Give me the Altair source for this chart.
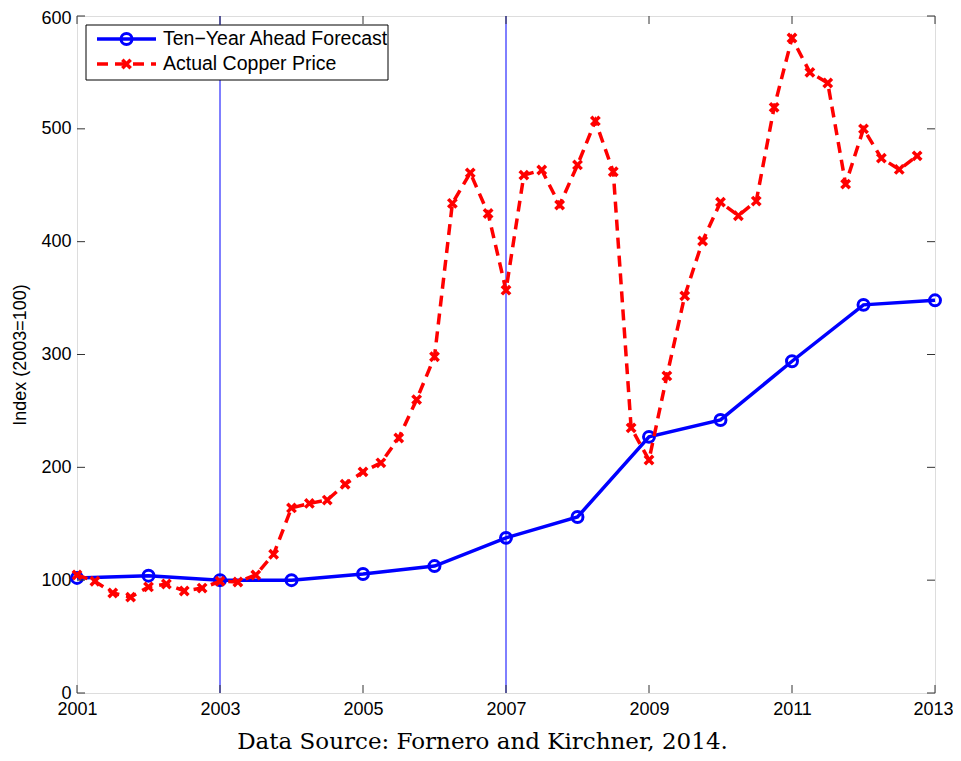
import altair as alt
import pandas as pd

# ---- data ----
forecast_years = list(range(2001, 2014))
forecast_vals = [102, 104, 100, 100, 105.5, 112.5, 137.5, 156, 227, 242, 294, 344, 348]

copper_t = [2001 + 0.25 * k for k in range(48)]
copper_vals = [104.6, 99, 88.6, 85, 94, 96.6, 90.4, 93, 99, 98.4, 104.6, 123,
               164, 168, 171, 185, 196, 204, 226, 260, 298, 434, 461, 425,
               357, 459, 463.5, 432.5, 468, 507, 462, 235, 206.5, 281, 352, 400.6,
               435, 423, 436, 519, 580.5, 550, 540.6, 451, 500, 474, 464, 476]

vline_years = [2003, 2007]
x_ticks = [2001, 2003, 2005, 2007, 2009, 2011, 2013]
y_ticks = [0, 100, 200, 300, 400, 500, 600]
legend_labels = ["Ten\u2212Year Ahead Forecast", "Actual Copper Price"]
caption = "Data Source: Fornero and Kirchner, 2014."
y_title = "Index (2003=100)"

W, H = 858, 677
BLUE = "#0000ff"
RED = "#ff0000"
FONT = "Liberation Sans"

df_f = pd.DataFrame({"year": forecast_years, "val": forecast_vals})
df_c = pd.DataFrame({"year": copper_t, "val": copper_vals})
df_v = pd.DataFrame({"year": vline_years})
df_xt = pd.DataFrame({"year": x_ticks})
df_yt = pd.DataFrame({"val": y_ticks})

xs = alt.Scale(domain=[2001, 2013], nice=False, zero=False)
ys = alt.Scale(domain=[0, 600], nice=False)

X = alt.X("year:Q", scale=xs,
          axis=alt.Axis(values=x_ticks, format="d", title=None, tickSize=0,
                        labelPadding=7, grid=False, domain=False, labelFlush=False,
                        labelOffset={"condition": {"test": "datum.value == 2013",
                                                   "value": -2}, "value": 0},
                        labelFont=FONT, labelFontSize=18, labelColor="black"))
Y = alt.Y("val:Q", scale=ys,
          axis=alt.Axis(values=y_ticks, title=y_title, tickSize=0, labelPadding=6,
                        grid=False, domain=False, labelFlush=False, labelFont=FONT,
                        labelOffset={"condition": {"test": "datum.value == 600",
                                                   "value": 2}, "value": 0},
                        labelFontSize=18, labelColor="black", titleFont=FONT,
                        titleFontSize=18, titleFontWeight="normal", titleColor="black",
                        titlePadding=11))

vlines = alt.Chart(df_v).mark_rule(color=BLUE, strokeWidth=1).encode(
    x=alt.X("year:Q", scale=xs))

f_line = alt.Chart(df_f).mark_line(color=BLUE, strokeWidth=3.5).encode(x=X, y=Y)
f_pts = alt.Chart(df_f).mark_point(shape="circle", size=120, color=BLUE,
                                   strokeWidth=3, filled=False, opacity=1).encode(
    x=alt.X("year:Q", scale=xs), y=alt.Y("val:Q", scale=ys))

XSHAPE = "M-1,-1L1,1M-1,1L1,-1"
c_line = alt.Chart(df_c).mark_line(color=RED, strokeWidth=3.5,
                                   strokeDash=[11, 7]).encode(
    x=alt.X("year:Q", scale=xs), y=alt.Y("val:Q", scale=ys))
c_pts = alt.Chart(df_c).mark_point(shape=XSHAPE, size=70, color=RED,
                                   strokeWidth=3.5, filled=False, opacity=1).encode(
    x=alt.X("year:Q", scale=xs), y=alt.Y("val:Q", scale=ys))

TL = 8
tick_b = alt.Chart(df_xt).mark_rule(color="#333333", strokeWidth=1).encode(
    x=alt.X("year:Q", scale=xs), y=alt.value(H), y2=alt.value(H - TL))
tick_t = alt.Chart(df_xt).mark_rule(color="#333333", strokeWidth=1).encode(
    x=alt.X("year:Q", scale=xs), y=alt.value(0), y2=alt.value(TL))
tick_l = alt.Chart(df_yt).mark_rule(color="#333333", strokeWidth=1).encode(
    y=alt.Y("val:Q", scale=ys), x=alt.value(0), x2=alt.value(TL))
tick_r = alt.Chart(df_yt).mark_rule(color="#333333", strokeWidth=1).encode(
    y=alt.Y("val:Q", scale=ys), x=alt.value(W), x2=alt.value(W - TL))

# ---- legend ----
one = pd.DataFrame({"k": [0]})
leg_box = alt.Chart(one).mark_rect(fill="white", stroke="black", strokeWidth=1).encode(
    x=alt.value(9), x2=alt.value(311), y=alt.value(9), y2=alt.value(64))
leg_l1 = alt.Chart(one).mark_rule(color=BLUE, strokeWidth=3.5).encode(
    x=alt.value(20), x2=alt.value(79), y=alt.value(23))
leg_p1 = alt.Chart(one).mark_point(shape="circle", size=120, color=BLUE,
                                   strokeWidth=3, filled=False, opacity=1).encode(
    x=alt.value(49.5), y=alt.value(23))
leg_l2 = alt.Chart(one).mark_rule(color=RED, strokeWidth=3.5, strokeDash=[11, 7]).encode(
    x=alt.value(20), x2=alt.value(79), y=alt.value(48))
leg_p2 = alt.Chart(one).mark_point(shape=XSHAPE, size=70, color=RED,
                                   strokeWidth=3.5, filled=False, opacity=1).encode(
    x=alt.value(49.5), y=alt.value(48))
df_leg = pd.DataFrame({"label": legend_labels, "ypix": [23, 48]})
leg_txt = alt.Chart(df_leg).mark_text(align="left", baseline="middle", font=FONT,
                                      fontSize=19.5, color="black").encode(
    x=alt.value(86), y=alt.Y("ypix:Q", scale=None), text="label:N")

cap = alt.Chart(pd.DataFrame({"t": [caption]})).mark_text(
    align="center", baseline="alphabetic", font="DejaVu Serif", fontSize=23,
    color="black").encode(x=alt.value(405.5), y=alt.value(733), text="t:N")

chart = alt.layer(
    vlines, f_line, f_pts, c_line, c_pts, tick_b, tick_t, tick_l, tick_r,
    leg_box, leg_l1, leg_p1, leg_l2, leg_p2, leg_txt, cap
).properties(
    width=W, height=H,
    autosize=alt.AutoSizeParams(type="none"),
    padding={"left": 69, "top": 8, "right": 18, "bottom": 60},
).configure_view(stroke="black", strokeWidth=1.2).configure(background="white")

chart.save("out.html", embed_options={"renderer": "svg", "actions": False})
